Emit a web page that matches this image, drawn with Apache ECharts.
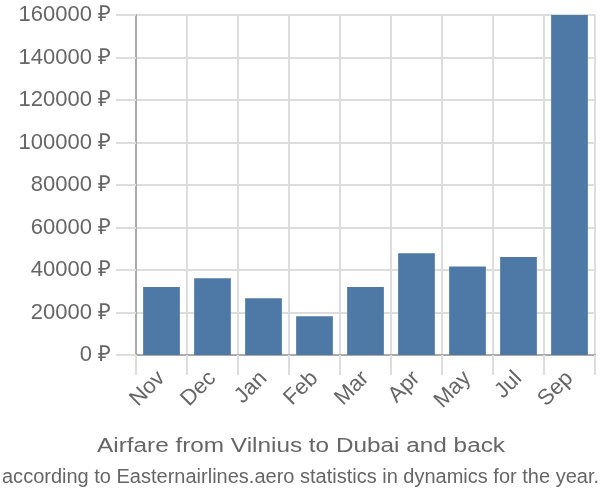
<!DOCTYPE html>
<html><head><meta charset="utf-8">
<script src="https://cdn.jsdelivr.net/npm/echarts@6/dist/echarts.min.js"></script>
<style>html,body{margin:0;padding:0;background:#fff}#c{width:600px;height:500px}</style>
</head><body><div id="c"></div>
<script>
var categories = ["Nov","Dec","Jan","Feb","Mar","Apr","May","Jul","Sep"];
var prices = [32000, 36100, 26700, 18200, 32000, 47900, 41700, 46100, 160000];
var yTicks = {min: 0, max: 160000, interval: 20000};
var titleText = "Airfare from Vilnius to Dubai and back";
var subtitleText = "according to Easternairlines.aero statistics in dynamics for the year.";

var titleFont = '20px "Liberation Sans"';
var mctx = document.createElement('canvas').getContext('2d');
function widthOf(t, f) { mctx.font = f; return mctx.measureText(t).width; }
var titleScale = 408 / widthOf(titleText, titleFont);
var subScale = 597 / widthOf(subtitleText, titleFont);

var chart = echarts.init(document.getElementById('c'), null, {renderer: 'canvas'});
chart.setOption({
  animation: false,
  backgroundColor: '#fff',
  graphic: [{
    type: 'text', x: 301, y: 446, scaleX: titleScale,
    style: {text: titleText, x: 0, y: 0, font: titleFont, fill: '#666', textAlign: 'center', textVerticalAlign: 'middle', align: 'center', verticalAlign: 'middle'}
  }, {
    type: 'text', x: 300.5, y: 477, scaleX: subScale,
    style: {text: subtitleText, x: 0, y: 0, font: titleFont, fill: '#666', textAlign: 'center', textVerticalAlign: 'middle', align: 'center', verticalAlign: 'middle'}
  }],
  grid: {left: 136, right: 5, top: 15, bottom: 145, containLabel: false},
  xAxis: {
    type: 'category', data: categories, boundaryGap: true,
    axisLine: {show: true, lineStyle: {color: '#aaa', width: 2}},
    axisTick: {show: true, length: 20, lineStyle: {color: '#ddd', width: 2}},
    splitLine: {show: true, lineStyle: {color: '#ddd', width: 2}},
    axisLabel: {rotate: 45, margin: 20, fontFamily: 'Liberation Sans', fontSize: 22, color: '#666'}
  },
  yAxis: {
    type: 'value', min: yTicks.min, max: yTicks.max, interval: yTicks.interval,
    axisLine: {show: true, lineStyle: {color: '#aaa', width: 2}},
    axisTick: {show: true, length: 20, lineStyle: {color: '#ddd', width: 2}},
    splitLine: {show: true, lineStyle: {color: '#ddd', width: 2}},
    axisLabel: {formatter: function (v) { return String(v) + ' ₽'; }, margin: 25, fontFamily: 'Liberation Sans', fontSize: 22, color: '#666'}
  },
  series: [{
    type: 'bar', data: prices, barCategoryGap: '28%',
    itemStyle: {color: '#4e79a7'}
  }]
});
</script></body></html>
